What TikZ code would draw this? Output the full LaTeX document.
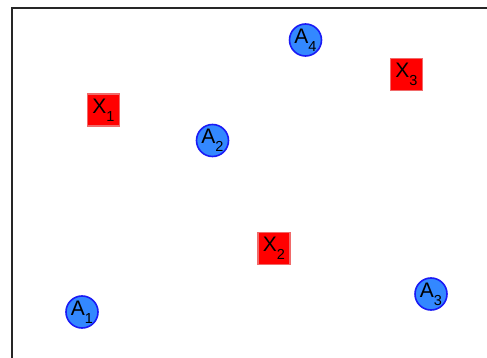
\documentclass[tikz,border=0pt]{standalone}
\usepackage{fontspec}
\setmainfont{Liberation Sans}
\definecolor{circfill}{HTML}{3388FF}
\definecolor{circline}{HTML}{1A1AF5}
\definecolor{sqfill}{HTML}{FF0000}
\definecolor{sqline}{HTML}{F06A6A}
\newcommand{\lbl}[2]{#1\raisebox{-0.38em}{\fontsize{14.5}{14.5}\selectfont #2}}
\tikzset{
  anode/.style={circle, draw=circline, fill=circfill, line width=1.6pt, minimum size=32pt, inner sep=0pt, font=\fontsize{21}{21}\selectfont},
  xnode/.style={rectangle, draw=sqline, fill=sqfill, line width=1.2pt, minimum size=32pt, inner sep=0pt, font=\fontsize{21}{21}\selectfont},
  frame/.style={draw=black!85, line width=1.6pt}
}
\begin{document}
\begin{tikzpicture}[x=1pt,y=-1pt]
\useasboundingbox (0,0) rectangle (487,358);
\draw[frame] (12,8) rectangle (520,380);
\node[anode] (a4) at (305.5,40) {\lbl{A}{4}};
\node[xnode] (x3) at (406.5,74.5) {\lbl{X}{3}};
\node[xnode] (x1) at (103.5,110) {\lbl{X}{1}};
\node[anode] (a2) at (212.5,140.5) {\lbl{A}{2}};
\node[xnode] (x2) at (274,248.5) {\lbl{X}{2}};
\node[anode] (a3) at (431,294) {\lbl{A}{3}};
\node[anode] (a1) at (82,312) {\lbl{A}{1}};
\end{tikzpicture}
\end{document}
